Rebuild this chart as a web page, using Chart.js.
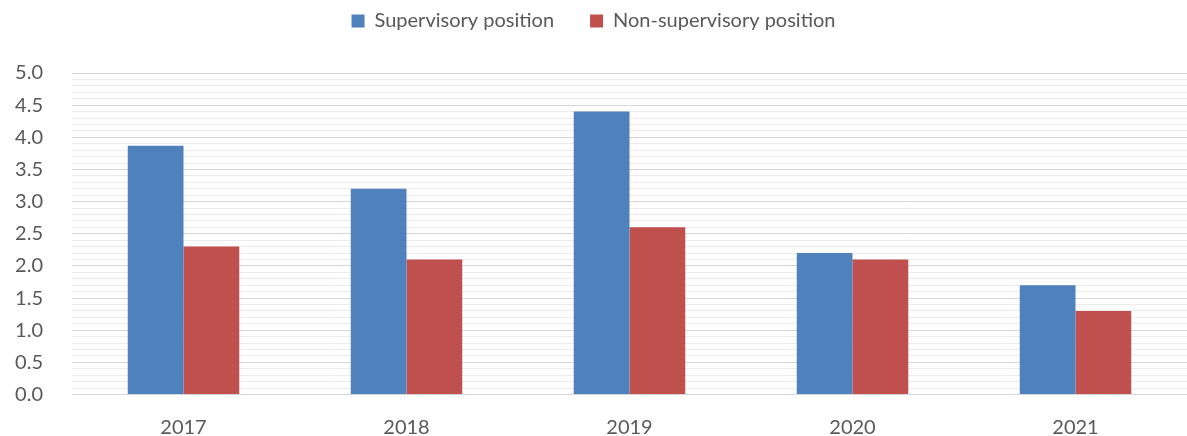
<!DOCTYPE html>
<html>
<head>
<meta charset="utf-8">
<script src="https://cdn.jsdelivr.net/npm/chart.js@4/dist/chart.umd.min.js"></script>
<style>
  html, body { margin: 0; padding: 0; background: #fff; }
  #wrap { width: 1187px; height: 436px; }
</style>
</head>
<body>
<div id="wrap"><canvas id="myChart" width="1187" height="436"></canvas></div>
<script>
var years = ['2017', '2018', '2019', '2020', '2021'];
var supervisory = [3.87, 3.2, 4.4, 2.2, 1.7];
var nonSupervisory = [2.3, 2.1, 2.6, 2.1, 1.3];

var textColor = '#595959';
var fontFamily = 'Lato, "Liberation Sans", sans-serif';

// legend gets a fixed height so the plot starts at the right spot
var legendHeight = {
    id: 'legendHeight',
    beforeInit: function(chart) {
        var fit = chart.legend.fit;
        chart.legend.fit = function() {
            fit.bind(chart.legend)();
            this.height = 98;
        };
    }
};

var ctx = document.getElementById('myChart').getContext('2d');
var myChart = new Chart(ctx, {
    type: 'bar',
    data: {
        labels: years,
        datasets: [{
            label: 'Supervisory position',
            data: supervisory,
            backgroundColor: '#4F81BD',
            categoryPercentage: 0.5,
            barPercentage: 1.0
        }, {
            label: 'Non-supervisory position',
            data: nonSupervisory,
            backgroundColor: '#C0504D',
            categoryPercentage: 0.5,
            barPercentage: 1.0
        }]
    },
    options: {
        responsive: false,
        animation: false,
        // negative top pull so the wide legend item gap doesn't push the legend down
        layout: { padding: { left: 0, right: 0, top: -25, bottom: 0 } },
        plugins: {
            tooltip: { enabled: false },
            legend: {
                position: 'top',
                labels: {
                    boxWidth: 13,
                    boxHeight: 13,
                    padding: 36,
                    color: textColor,
                    font: { family: fontFamily, size: 20 }
                }
            }
        },
        scales: {
            x: {
                grid: { display: false },
                border: { display: false },
                ticks: {
                    color: textColor,
                    padding: 13,
                    font: { family: fontFamily, size: 20 }
                },
                afterFit: function(scale) { scale.height = 41.5; }
            },
            y: {
                min: 0,
                max: 5,
                border: { display: false },
                grid: {
                    drawTicks: false,
                    color: function(c) {
                        var v = Math.round(c.tick.value * 10);
                        return v % 5 === 0 ? '#d6d6d6' : '#ebebeb';
                    }
                },
                ticks: {
                    stepSize: 0.1,
                    autoSkip: false,
                    padding: 29,
                    color: textColor,
                    font: { family: fontFamily, size: 20 },
                    callback: function(value) {
                        var v = Math.round(value * 10);
                        return v % 5 === 0 ? (v / 10).toFixed(1) : '';
                    }
                },
                afterFit: function(scale) { scale.width = 72; }
            }
        }
    },
    plugins: [legendHeight]
});
</script>
</body>
</html>
